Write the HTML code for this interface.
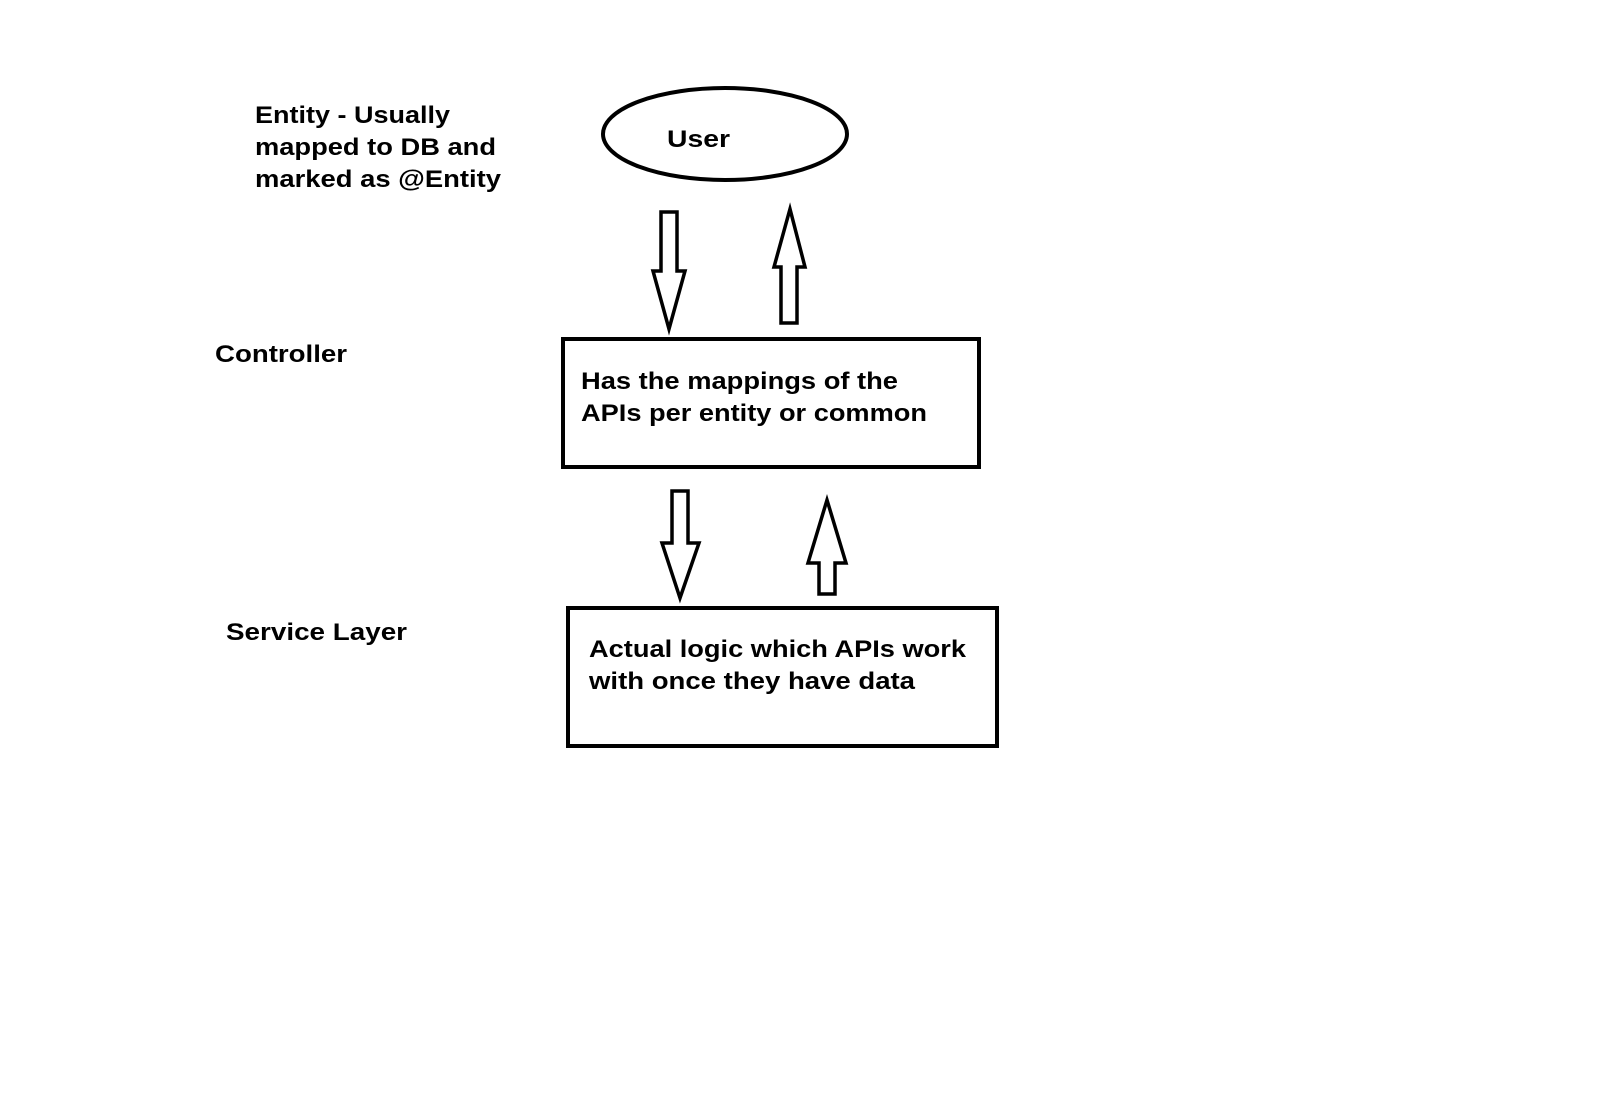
<!DOCTYPE html>
<html><head><meta charset="utf-8"><style>
html,body{margin:0;padding:0;background:#fff;}
svg{display:block;}
text{font-family:"Liberation Sans",Arial,sans-serif;font-weight:bold;font-size:24px;fill:#000;}
</style></head><body>
<svg width="1621" height="1117" viewBox="0 0 1621 1117" xmlns="http://www.w3.org/2000/svg">
<rect width="1621" height="1117" fill="#fff"/>
<text x="255" y="123" textLength="195" lengthAdjust="spacingAndGlyphs">Entity - Usually</text>
<text x="255" y="155" textLength="241" lengthAdjust="spacingAndGlyphs">mapped to DB and</text>
<text x="255" y="187" textLength="246" lengthAdjust="spacingAndGlyphs">marked as @Entity</text>
<text x="215" y="362" textLength="132" lengthAdjust="spacingAndGlyphs">Controller</text>
<text x="226" y="640" textLength="181" lengthAdjust="spacingAndGlyphs">Service Layer</text>

<ellipse cx="725" cy="134" rx="122" ry="46" fill="none" stroke="#000" stroke-width="4"/>
<text x="667" y="147" textLength="63" lengthAdjust="spacingAndGlyphs">User</text>

<rect x="563" y="339" width="416" height="128" fill="none" stroke="#000" stroke-width="4"/>
<text x="581" y="389" textLength="317" lengthAdjust="spacingAndGlyphs">Has the mappings of the</text>
<text x="581" y="421" textLength="346" lengthAdjust="spacingAndGlyphs">APIs per entity or common</text>

<rect x="568" y="608" width="429" height="138" fill="none" stroke="#000" stroke-width="4"/>
<text x="589" y="657" textLength="377" lengthAdjust="spacingAndGlyphs">Actual logic which APIs work</text>
<text x="589" y="689" textLength="326" lengthAdjust="spacingAndGlyphs">with once they have data</text>

<g fill="none" stroke="#000" stroke-width="3.5" stroke-linejoin="miter">
<polygon points="661,212 677,212 677,271 685,271 669,329 653,271 661,271"/>
<polygon points="781,323 797,323 797,267 805,267 790,209 774,267 781,267"/>
<polygon points="672,491 688,491 688,543 699,543 680,598 662,543 672,543"/>
<polygon points="819,594 835,594 835,563 846,563 827,500 808,563 819,563"/>
</g>
</svg>
</body></html>
